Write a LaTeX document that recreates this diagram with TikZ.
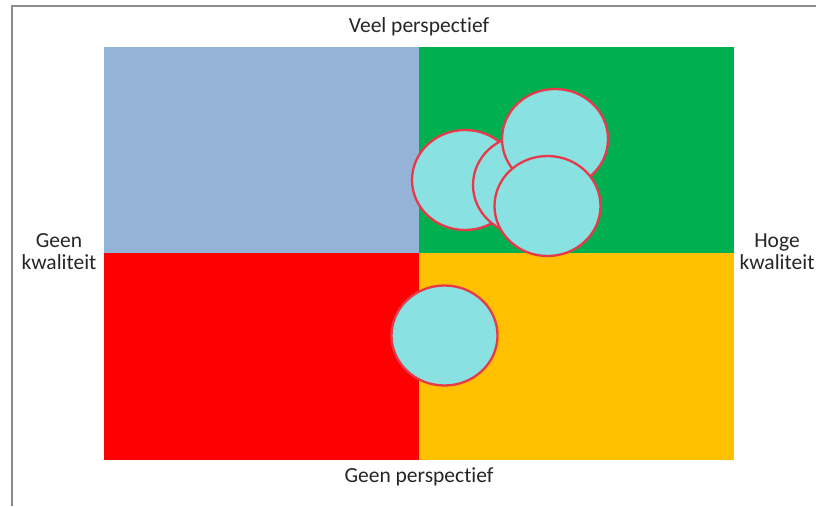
\documentclass[tikz,border=0pt]{standalone}
\usepackage{fontspec}
\setmainfont[RawFeature={-liga}]{Carlito}
\usetikzlibrary{shapes.geometric}
\definecolor{qblue}{HTML}{95B3D7}
\definecolor{qgreen}{HTML}{00B050}
\definecolor{qred}{HTML}{FF0000}
\definecolor{qgold}{HTML}{FFC000}
\definecolor{dotfill}{HTML}{8AE1E1}
\definecolor{dotline}{HTML}{E8394A}
\definecolor{framegray}{HTML}{8C8C8C}
\tikzset{
  quad/.style={inner sep=0pt, outer sep=0pt},
  dot/.style={ellipse, draw=dotline, line width=2.3pt, fill=dotfill,
    minimum width=106pt, minimum height=100pt, inner sep=0pt},
  lbl/.style={font=\fontsize{21.5}{22}\selectfont, text=black!85, align=center, inner sep=0pt}
}
\begin{document}
\begin{tikzpicture}[x=1pt,y=-1pt]
\useasboundingbox (0,0) rectangle (816,506);
\fill[white] (0,0) rectangle (816,506);
% frame
\draw[framegray, line width=1.5pt] (12,506) -- (12,6) -- (816,6);
% quadrants
\fill[qblue] (104,47) rectangle (419,253);
\fill[qgreen] (419,47) rectangle (734,253);
\fill[qred] (104,253) rectangle (419,460);
\fill[qgold] (419,253) rectangle (734,460);
% dots
\node[dot] (dA) at (465,180) {};
\node[dot] (dB) at (526,185) {};
\node[dot] (dC) at (555,139) {};
\node[dot] (dD) at (547.5,206) {};
\node[dot] (dE) at (444.5,335.5) {};
% labels
\node[lbl] (top) at (419,27) {Veel perspectief};
\node[lbl] (bot) at (419,477) {Geen perspectief};
\node[lbl] (left) at (59,252) {Geen\\kwaliteit};
\node[lbl] (right) at (777,252) {Hoge\\kwaliteit};
\end{tikzpicture}
\end{document}
